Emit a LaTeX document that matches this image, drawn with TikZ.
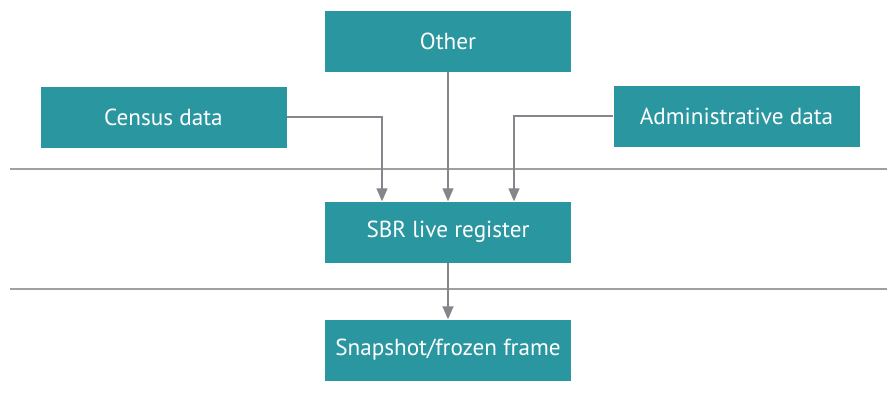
\documentclass[tikz,border=0pt]{standalone}
\usepackage{fontspec}
\setmainfont{PT Sans}
\usetikzlibrary{arrows.meta}
\definecolor{boxteal}{HTML}{2A96A0}
\definecolor{rulegray}{HTML}{A0A0A0}
\definecolor{arrowgray}{HTML}{85858C}
\tikzset{
  databox/.style={fill=boxteal, text=white, minimum width=246pt, minimum height=61pt,
    inner sep=0pt, font=\fontsize{23.2}{25}\selectfont},
  flow/.style={draw=arrowgray, line width=1.3pt, -{Triangle[length=13pt,width=11pt]}},
  divider/.style={draw=rulegray, line width=1.5pt}
}
\begin{document}
\begin{tikzpicture}[x=1pt,y=-1pt]
  \useasboundingbox (0,0) rectangle (887,402);
  \draw[divider] (10,169) -- (887,169);
  \draw[divider] (10,289) -- (887,289);
  \node[databox] (other) at (448,41) {Other};
  \node[databox] (census) at (163.5,117) {Census data};
  \node[databox] (admin) at (736.5,116) {Administrative data};
  \node[databox] (sbr) at (448,232) {SBR live register};
  \node[databox] (snap) at (448,350) {Snapshot/frozen frame};
  \begin{scope}[flow]
    \draw (census.east) -| ([xshift=-66pt]sbr.north);
    \draw (other) -- (sbr);
    \draw (admin.west) -| ([xshift=66pt]sbr.north);
    \draw (sbr) -- (snap);
  \end{scope}
\end{tikzpicture}
\end{document}
